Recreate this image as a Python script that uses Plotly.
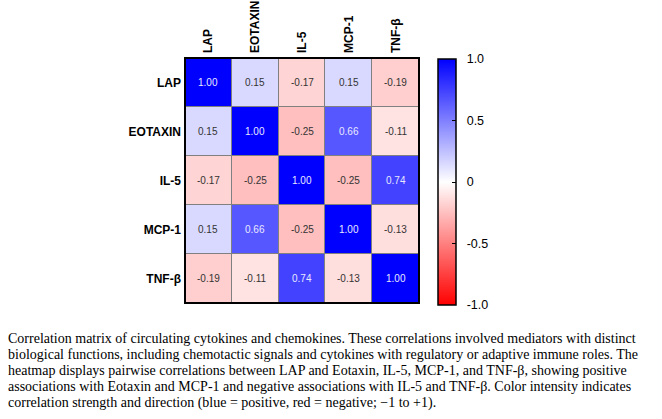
import plotly.graph_objects as go

labels = ["LAP", "EOTAXIN", "IL-5", "MCP-1", "TNF-β"]
lap = [1.00, 0.15, -0.17, 0.15, -0.19]
eotaxin = [0.15, 1.00, -0.25, 0.66, -0.11]
il5 = [-0.17, -0.25, 1.00, -0.25, 0.74]
mcp1 = [0.15, 0.66, -0.25, 1.00, -0.13]
tnfb = [-0.19, -0.11, 0.74, -0.13, 1.00]
matrix = [lap, eotaxin, il5, mcp1, tnfb]

cbar_vals = [1, 0.5, 0, -0.5, -1]
cbar_text = ["1.0", "0.5", "0", "-0.5", "-1.0"]

caption_lines = [
    "Correlation matrix of circulating cytokines and chemokines. These correlations involved mediators with distinct",
    "biological functions, including chemotactic signals and cytokines with regulatory or adaptive immune roles. The",
    "heatmap displays pairwise correlations between LAP and Eotaxin, IL-5, MCP-1, and TNF-β, showing positive",
    "associations with Eotaxin and MCP-1 and negative associations with IL-5 and TNF-β. Color intensity indicates",
    "correlation strength and direction (blue = positive, red = negative; −1 to +1).",
]

W, H = 662, 419
x0, x1 = 185, 419
y0, y1 = 58, 303

fig = go.Figure()
fig.add_trace(go.Heatmap(
    z=matrix, x=labels, y=labels,
    zmin=-1, zmax=1,
    colorscale=[[0, "rgb(255,0,0)"], [0.5, "rgb(255,255,255)"], [1, "rgb(0,0,255)"]],
    xgap=1, ygap=1,
    hoverinfo="skip",
    colorbar=dict(
        x=438 / W, xanchor="left", xpad=0, ypad=0,
        y=1 - (59 + 305) / 2 / H, yanchor="middle",
        lenmode="pixels", len=246, thickness=18,
        outlinecolor="black", outlinewidth=1.5,
        tickvals=cbar_vals, ticktext=["  " + t for t in cbar_text],
        ticks="inside", ticklen=4, tickcolor="black",
        tickfont=dict(family="Liberation Sans, Arial", size=12.5, color="black"),
    ),
))

for i, row_name in enumerate(labels):
    for j, col_name in enumerate(labels):
        v = matrix[i][j]
        fig.add_annotation(
            x=col_name, y=row_name, text=f"{v:.2f}", showarrow=False,
            font=dict(family="Liberation Sans, Arial", size=10,
                      color="#e8e8ff" if v > 0.5 else "#333333"),
        )

fig.add_shape(type="rect", xref="paper", yref="paper",
              x0=x0 / W, x1=x1 / W, y0=1 - y1 / H, y1=1 - y0 / H,
              line=dict(color="black", width=2))

for k, line in enumerate(caption_lines):
    fig.add_annotation(
        xref="paper", yref="paper", x=6 / W, y=1 - (338 + 16.2 * k) / H,
        xanchor="left", yanchor="middle", align="left", showarrow=False,
        text=line,
        font=dict(family="Liberation Serif, Times New Roman", size=14.0, color="black"),
    )

fig.update_layout(
    width=W, height=H,
    margin=dict(l=0, r=0, t=0, b=0),
    paper_bgcolor="white",
    plot_bgcolor="#808080",
    xaxis=dict(domain=[x0 / W, x1 / W], side="top", tickangle=-90,
               showgrid=False, zeroline=False, ticks="", ticklabelstandoff=4,
               tickfont=dict(family="Liberation Sans, Arial", size=12, color="black", weight="bold")),
    yaxis=dict(domain=[1 - y1 / H, 1 - y0 / H], autorange="reversed",
               showgrid=False, zeroline=False, ticks="", ticklabelstandoff=3,
               tickfont=dict(family="Liberation Sans, Arial", size=12, color="black", weight="bold")),
    showlegend=False,
)

fig.write_html("out.html")
